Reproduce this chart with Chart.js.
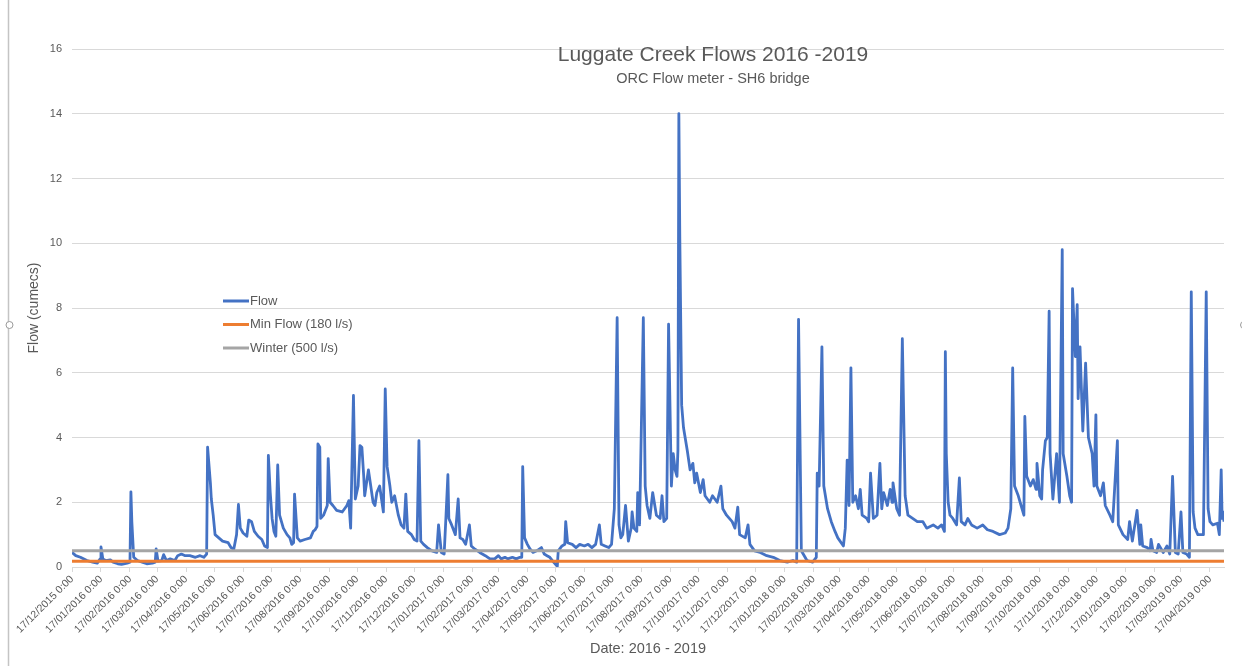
<!DOCTYPE html>
<html>
<head>
<meta charset="utf-8">
<script src="https://cdn.jsdelivr.net/npm/chart.js@4.4.1/dist/chart.umd.min.js"></script>
<style>
  body { margin: 0; background: #fff; }
  #wrap { width: 1242px; height: 666px; position: relative; }
</style>
</head>
<body>
<div id="wrap"><canvas id="flowChart"></canvas></div>
<script>
// days counted from 17/12/2015, flow in cumecs
var flowDays = [
  0, 4, 9, 16, 22, 27, 30, 31, 33, 36,
  41, 44, 49, 53, 59, 62, 63, 64, 66, 70,
  75, 80, 86, 89, 90, 92, 96, 98, 101, 105,
  110, 113, 117, 121, 126, 132, 137, 141, 144, 145,
  148, 149, 151, 153, 157, 161, 167, 170, 173, 176,
  178, 180, 183, 187, 189, 192, 195, 199, 203, 206,
  209, 210, 212, 214, 216, 218, 220, 222, 226, 230,
  233, 235, 237, 238, 241, 244, 249, 255, 258, 260,
  262, 263, 265, 266, 269, 273, 274, 276, 279, 283,
  289, 294, 296, 298, 301, 303, 306, 308, 310, 312,
  313, 317, 319, 322, 324, 326, 329, 333, 335, 337,
  340, 342, 345, 349, 352, 355, 357, 359, 363, 366,
  369, 371, 373, 376, 380, 385, 390, 392, 395, 398,
  399, 400, 402, 403, 406, 410, 413, 415, 418, 421,
  425, 427, 431, 436, 442, 447, 452, 456, 459, 463,
  466, 471, 475, 479, 481, 482, 484, 487, 490, 493,
  497, 502, 505, 508, 511, 515, 519, 520, 524, 527,
  528, 530, 535, 539, 543, 548, 552, 556, 560, 564,
  566, 570, 574, 577, 580, 583, 585, 587, 589, 592,
  595, 598, 599, 601, 604, 605, 607, 611, 613, 615,
  618, 621, 625, 629, 631, 633, 636, 638, 641, 643,
  645, 647, 648, 649, 650, 652, 654, 658, 661, 664,
  666, 668, 672, 675, 677, 682, 685, 690, 694, 696,
  700, 706, 709, 712, 714, 720, 723, 725, 730, 736,
  743, 750, 757, 765, 771, 775, 777, 780, 786, 792,
  796, 797, 799, 802, 804, 808, 812, 816, 819, 825,
  827, 829, 831, 833, 835, 838, 841, 843, 845, 850,
  852, 854, 857, 861, 864, 866, 868, 872, 875, 877,
  878, 882, 885, 888, 891, 894, 899, 904, 910, 914,
  921, 926, 930, 933, 934, 935, 937, 939, 942, 946,
  949, 951, 955, 958, 962, 968, 974, 979, 985, 992,
  998, 1001, 1004, 1006, 1008, 1012, 1015, 1018, 1019, 1021,
  1025, 1028, 1031, 1032, 1035, 1037, 1038, 1041, 1043, 1045,
  1046, 1049, 1053, 1056, 1059, 1060, 1064, 1067, 1069, 1070,
  1073, 1075, 1076, 1078, 1081, 1084, 1087, 1091, 1093, 1095,
  1096, 1100, 1103, 1105, 1110, 1113, 1118, 1119, 1124, 1129,
  1131, 1134, 1139, 1142, 1143, 1145, 1150, 1153, 1154, 1156,
  1160, 1162, 1167, 1171, 1174, 1177, 1180, 1183, 1186, 1188,
  1192, 1195, 1197, 1199, 1201, 1204, 1210, 1213, 1215, 1217,
  1220, 1225, 1227, 1229, 1230, 1231, 1232
];
var flowValues = [
  0.45, 0.35, 0.3, 0.2, 0.15, 0.12, 0.25, 0.62, 0.25, 0.2,
  0.22, 0.15, 0.1, 0.08, 0.12, 0.15, 2.32, 1.4, 0.3, 0.2,
  0.15, 0.1, 0.12, 0.15, 0.56, 0.18, 0.2, 0.38, 0.2, 0.25,
  0.2, 0.35, 0.4, 0.35, 0.35, 0.3, 0.35, 0.3, 0.4, 3.7,
  2.6, 2.1, 1.6, 1.0, 0.9, 0.8, 0.75, 0.6, 0.55, 1.0,
  1.93, 1.2, 1.05, 0.95, 1.45, 1.4, 1.1, 0.95, 0.85, 0.65,
  0.6, 3.45, 2.3, 1.5, 1.1, 0.95, 3.15, 1.6, 1.2, 1.0,
  0.9, 0.7, 0.75, 2.25, 0.9, 0.8, 0.85, 0.9, 1.1, 1.15,
  1.25, 3.8, 3.7, 1.5, 1.6, 1.9, 3.35, 2.0, 1.9, 1.75,
  1.7, 1.9, 2.05, 1.2, 5.3, 2.1, 2.5, 3.75, 3.7, 2.8,
  2.2, 3.0, 2.6, 2.0, 1.9, 2.3, 2.5, 1.7, 5.5, 3.1,
  2.5, 2.0, 2.2, 1.6, 1.3, 1.2, 2.25, 1.1, 1.0, 0.85,
  0.8, 3.9, 0.8, 0.7, 0.6, 0.5, 0.45, 1.3, 0.45, 0.4,
  1.0, 1.6, 2.85, 1.5, 1.3, 1.0, 2.1, 0.9, 0.85, 0.7,
  1.3, 0.65, 0.55, 0.45, 0.35, 0.25, 0.25, 0.35, 0.25, 0.3,
  0.25, 0.3, 0.25, 0.3, 0.3, 3.1, 0.9, 0.7, 0.55, 0.45,
  0.5, 0.6, 0.4, 0.35, 0.3, 0.15, 0.02, 0.5, 0.65, 0.7,
  1.4, 0.75, 0.7, 0.6, 0.7, 0.65, 0.7, 0.6, 0.7, 1.3,
  0.7, 0.65, 0.6, 0.7, 1.8, 7.7, 1.3, 0.9, 1.0, 1.9,
  0.8, 1.2, 1.7, 1.2, 1.1, 2.3, 1.3, 7.7, 2.5, 1.9,
  1.5, 2.3, 1.6, 1.5, 2.2, 1.4, 1.5, 7.5, 2.5, 3.5,
  3.0, 2.8, 3.6, 14.0, 10.2, 5.0, 4.3, 3.6, 3.0, 3.2,
  2.6, 2.9, 2.3, 2.7, 2.2, 2.0, 2.2, 2.0, 2.5, 1.8,
  1.6, 1.4, 1.2, 1.85, 1.0, 0.9, 1.3, 0.7, 0.5, 0.45,
  0.35, 0.3, 0.2, 0.15, 0.2, 0.15, 7.65, 0.5, 0.2, 0.15,
  0.3, 2.9, 2.5, 6.8, 2.5, 1.8, 1.4, 1.1, 0.9, 0.65,
  1.2, 3.3, 1.9, 6.15, 2.0, 2.2, 1.8, 2.4, 1.6, 1.5,
  1.4, 2.9, 1.5, 1.6, 3.2, 1.8, 2.3, 1.9, 2.4, 2.0,
  2.6, 1.8, 1.6, 7.05, 2.2, 1.6, 1.5, 1.4, 1.4, 1.2,
  1.3, 1.2, 1.3, 1.1, 6.65, 3.5, 2.0, 1.6, 1.5, 1.3,
  2.75, 1.4, 1.3, 1.5, 1.3, 1.2, 1.3, 1.15, 1.1, 1.0,
  1.05, 1.2, 1.8, 6.15, 2.5, 2.2, 1.9, 1.6, 4.65, 2.8,
  2.5, 2.7, 2.4, 3.2, 2.2, 2.1, 3.0, 3.9, 4.0, 7.9,
  3.5, 2.1, 3.5, 2.0, 9.8, 3.5, 2.8, 2.2, 2.0, 8.6,
  6.5, 8.1, 5.2, 6.8, 4.2, 6.3, 4.0, 3.5, 2.5, 4.7,
  2.5, 2.2, 2.6, 1.9, 1.6, 1.4, 3.9, 1.3, 1.0, 0.85,
  1.4, 0.8, 1.75, 0.7, 1.3, 0.65, 0.6, 0.5, 0.85, 0.5,
  0.45, 0.7, 0.45, 0.65, 0.4, 2.8, 0.45, 0.4, 1.7, 0.45,
  0.4, 0.3, 8.5, 1.7, 1.2, 1.0, 1.0, 8.5, 1.8, 1.4,
  1.3, 1.35, 1.0, 3.0, 1.5, 1.7, 1.4
];
var minFlow = 0.18;     // 180 l/s
var winterFlow = 0.5;   // 500 l/s

var tickLabels = [
  '17/12/2015 0:00', '17/01/2016 0:00', '17/02/2016 0:00', '17/03/2016 0:00',
  '17/04/2016 0:00', '17/05/2016 0:00', '17/06/2016 0:00', '17/07/2016 0:00',
  '17/08/2016 0:00', '17/09/2016 0:00', '17/10/2016 0:00', '17/11/2016 0:00',
  '17/12/2016 0:00', '17/01/2017 0:00', '17/02/2017 0:00', '17/03/2017 0:00',
  '17/04/2017 0:00', '17/05/2017 0:00', '17/06/2017 0:00', '17/07/2017 0:00',
  '17/08/2017 0:00', '17/09/2017 0:00', '17/10/2017 0:00', '17/11/2017 0:00',
  '17/12/2017 0:00', '17/01/2018 0:00', '17/02/2018 0:00', '17/03/2018 0:00',
  '17/04/2018 0:00', '17/05/2018 0:00', '17/06/2018 0:00', '17/07/2018 0:00',
  '17/08/2018 0:00', '17/09/2018 0:00', '17/10/2018 0:00', '17/11/2018 0:00',
  '17/12/2018 0:00', '17/01/2019 0:00', '17/02/2019 0:00', '17/03/2019 0:00',
  '17/04/2019 0:00'
];
var yTicks = [0, 2, 4, 6, 8, 10, 12, 14, 16];

var chartTitle = 'Luggate Creek Flows 2016 -2019';
var chartSubtitle = 'ORC Flow meter - SH6 bridge';

var FONT = "'Liberation Sans', Arial, sans-serif";
var TEXT = '#595959';

function dayOf(label) {
  var p = label.split(' ')[0].split('/');
  var t = Date.UTC(+p[2], +p[1] - 1, +p[0]);
  return Math.round((t - Date.UTC(2015, 11, 17)) / 86400000);
}
var tickDays = tickLabels.map(dayOf);
var lastDay = flowDays[flowDays.length - 1];

var flowPoints = flowDays.map(function(d, i) { return { x: d, y: flowValues[i] }; });

var series = [
  { label: 'Flow', color: '#4472C4' },
  { label: 'Min Flow (180 l/s)', color: '#ED7D31' },
  { label: 'Winter (500 l/s)', color: '#A5A5A5' }
];

// title, subtitle, legend inside the plot and the excel frame edge
var decorations = {
  id: 'decorations',
  afterDraw: function(chart) {
    var ctx = chart.ctx, a = chart.chartArea;
    ctx.save();
    ctx.strokeStyle = '#c4c4c4';
    ctx.lineWidth = 1.5;
    ctx.beginPath(); ctx.moveTo(8.5, 0); ctx.lineTo(8.5, chart.height); ctx.stroke();
    ctx.fillStyle = '#fff';
    ctx.lineWidth = 1;
    ctx.strokeStyle = '#9a9a9a';
    ctx.beginPath(); ctx.arc(9.5, 325, 3.5, 0, Math.PI * 2); ctx.fill(); ctx.stroke();
    ctx.beginPath(); ctx.arc(1244, 325, 3.5, 0, Math.PI * 2); ctx.stroke();

    ctx.fillStyle = TEXT;
    ctx.textAlign = 'center';
    ctx.textBaseline = 'middle';
    ctx.font = '21px ' + FONT;
    ctx.fillText(chartTitle, a.left + 641, 55);
    ctx.font = '14.5px ' + FONT;
    ctx.fillText(chartSubtitle, a.left + 641, 79);

    ctx.textAlign = 'left';
    ctx.font = '13px ' + FONT;
    series.forEach(function(s, i) {
      var y = 301 + i * 23.5;
      ctx.strokeStyle = s.color;
      ctx.lineWidth = 3;
      ctx.beginPath(); ctx.moveTo(a.left + 151, y); ctx.lineTo(a.left + 177, y); ctx.stroke();
      ctx.fillStyle = TEXT;
      ctx.fillText(s.label, a.left + 178, y);
    });
    ctx.restore();
  }
};

var ctx = document.getElementById('flowChart');
var flowChart = new Chart(ctx, {
  type: 'line',
  data: {
    datasets: [{
      label: series[0].label,
      data: flowPoints,
      borderColor: series[0].color,
      borderWidth: 2.8,
      borderJoinStyle: 'round',
      pointRadius: 0,
      order: 3
    }, {
      label: series[1].label,
      data: [{ x: 0, y: minFlow }, { x: lastDay, y: minFlow }],
      borderColor: series[1].color,
      borderWidth: 3,
      pointRadius: 0,
      order: 2
    }, {
      label: series[2].label,
      data: [{ x: 0, y: winterFlow }, { x: lastDay, y: winterFlow }],
      borderColor: series[2].color,
      borderWidth: 3,
      pointRadius: 0,
      order: 1
    }]
  },
  options: {
    responsive: true,
    maintainAspectRatio: false,
    animation: false,
    layout: { padding: { left: 22, right: 18, top: 49, bottom: 4 } },
    plugins: {
      legend: { display: false },
      tooltip: { enabled: false }
    },
    scales: {
      x: {
        type: 'linear',
        min: 0,
        max: lastDay,
        afterBuildTicks: function(scale) {
          scale.ticks = tickDays.map(function(v) { return { value: v }; });
        },
        afterFit: function(scale) { scale.height = 95; },
        ticks: {
          autoSkip: false,
          minRotation: 45,
          maxRotation: 45,
          padding: 1,
          color: TEXT,
          font: { family: FONT, size: 10.5 },
          callback: function(v, i) { return tickLabels[i]; }
        },
        grid: { drawOnChartArea: false, drawTicks: true, tickLength: 5, color: '#d9d9d9' },
        border: { display: true, color: '#d9d9d9' },
        title: { display: true, text: 'Date: 2016 - 2019', color: TEXT, font: { family: FONT, size: 14.5 } }
      },
      y: {
        min: 0,
        max: 16,
        afterBuildTicks: function(scale) {
          scale.ticks = yTicks.map(function(v) { return { value: v }; });
        },
        afterFit: function(scale) { scale.width = 50; },
        ticks: { padding: 10, color: TEXT, font: { family: FONT, size: 11 } },
        grid: { color: '#d9d9d9', drawTicks: false },
        border: { display: false },
        title: { display: true, text: 'Flow (cumecs)', color: TEXT, font: { family: FONT, size: 14 } }
      }
    }
  },
  plugins: [decorations]
});
</script>
</body>
</html>
